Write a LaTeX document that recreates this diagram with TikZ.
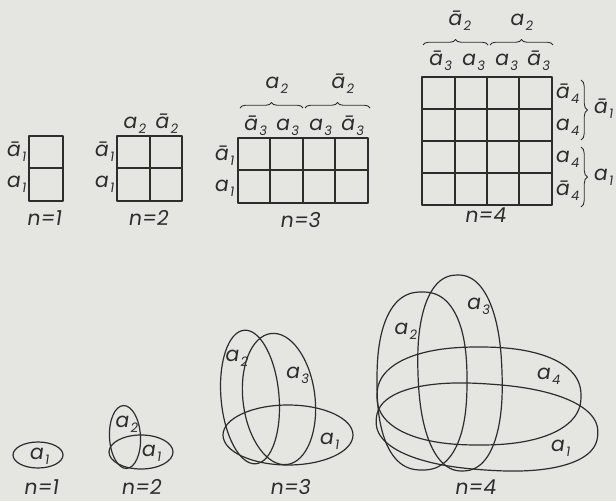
\documentclass[tikz,border=0pt]{standalone}
\usepackage{fontspec}
\setmainfont{Poppins}[FakeSlant=0.15]
\usetikzlibrary{decorations.pathreplacing}
\definecolor{bg}{RGB}{229,229,225}
\definecolor{ink}{RGB}{45,45,45}
\newcommand{\lsub}[1]{\kern0.08em\raisebox{-0.26em}{\fontsize{13}{13}\selectfont #1}}
\newcommand{\La}[1]{a\lsub{#1}}
\newcommand{\Lb}[1]{ā\lsub{#1}}
\newcommand{\sell}[6]{%
  \draw[venn,rotate around={#6:(#1,#2)}] plot[domain=1:359,samples=180]
  ({#1+#3*cos(\x)*pow(abs(cos(\x)),2/#5-1)},{#2+#4*sin(\x)*pow(abs(sin(\x)),2/#5-1)}) -- cycle;}
\begin{document}
\begin{tikzpicture}[x=1pt,y=-1pt,line join=round,
  grid/.style={draw=ink,line width=1.2pt},
  venn/.style={draw=ink,line width=1.2pt},
  brc/.style={decorate,decoration={brace,amplitude=5.5pt},draw=ink,line width=0.9pt},
  lab/.style={anchor=base,inner sep=0pt,text=ink,font=\fontsize{20.5}{22}\selectfont}]
\useasboundingbox (0,0) rectangle (616,501);
\fill[bg] (0,0) rectangle (616,501);

% ---------- grids ----------
% n=1
\draw[grid] (29,136) rectangle (63,201) (29,168) -- (63,168);
\node[lab] (g1r1) at (16,156) {\Lb1};
\node[lab] (g1r2) at (16,187) {\La1};
\node[lab] (g1n) at (44,225) {n=1};
% n=2
\draw[grid] (117,136) rectangle (182,201) (117,168) -- (182,168) (150,136) -- (150,201);
\node[lab] (g2r1) at (104,156) {\Lb1};
\node[lab] (g2r2) at (104,187) {\La1};
\node[lab] (g2c1) at (134,128) {\La2};
\node[lab] (g2c2) at (166,128) {\Lb2};
\node[lab] (g2n) at (148,225) {n=2};
% n=3
\draw[grid] (238,138) rectangle (368,203) (238,170) -- (368,170);
\foreach \c in {270,303,335} \draw[grid] (\c,138) -- (\c,203);
\node[lab] (g3r1) at (224,160) {\Lb1};
\node[lab] (g3r2) at (224,191) {\La1};
\node[lab] (g3c1) at (255,130) {\Lb3};
\node[lab] (g3c2) at (287,130) {\La3};
\node[lab] (g3c3) at (320,130) {\La3};
\node[lab] (g3c4) at (352,130) {\Lb3};
\draw[brc] (240,108) -- (303,108);
\draw[brc] (305,108) -- (370,108);
\node[lab] (g3b1) at (276,88) {\La2};
\node[lab] (g3b2) at (342,88) {\Lb2};
\node[lab] (g3n) at (300,227) {n=3};
% n=4
\draw[grid] (422,77) rectangle (552,205);
\foreach \c in {455,487,519} \draw[grid] (\c,77) -- (\c,205);
\foreach \r in {109,141,173} \draw[grid] (422,\r) -- (552,\r);
\node[lab] (g4c1) at (440,65) {\Lb3};
\node[lab] (g4c2) at (473,65) {\La3};
\node[lab] (g4c3) at (506,65) {\La3};
\node[lab] (g4c4) at (538,65) {\Lb3};
\draw[brc] (423,45) -- (488,45);
\draw[brc] (490,45) -- (553,45);
\node[lab] (g4b1) at (459,25) {\Lb2};
\node[lab] (g4b2) at (521,25) {\La2};
\node[lab] (g4r1) at (567,98) {\Lb4};
\node[lab] (g4r2) at (567,130) {\La4};
\node[lab] (g4r3) at (567,162) {\La4};
\node[lab] (g4r4) at (567,195) {\Lb4};
\draw[brc,decoration={amplitude=6.5pt}] (581,80) -- (581,140);
\draw[brc,decoration={amplitude=6.5pt}] (581,147) -- (581,207);
\node[lab] (g4s1) at (603,113) {\Lb1};
\node[lab] (g4s2) at (603,180) {\La1};
\node[lab] (g4n) at (485,222) {n=4};

% ---------- Venn diagrams ----------
% n=1
\draw[venn] (38,455) ellipse [x radius=25, y radius=13];
\node[lab] (v1a1) at (39,459) {\La1};
\node[lab] (v1n) at (41,494) {n=1};
% n=2
\draw[venn] (141,452) ellipse [x radius=32, y radius=17];
\draw[venn,rotate around={3:(125,437)}] (125,437) ellipse [x radius=15.5, y radius=31.5];
\node[lab] (v2a2) at (126,427) {\La2};
\node[lab] (v2a1) at (151,456) {\La1};
\node[lab] (v2n) at (141,494) {n=2};
% n=3
\draw[venn] (288,435) ellipse [x radius=65, y radius=30];
\draw[venn,rotate around={5:(250,397)}] (250,397) ellipse [x radius=29, y radius=67];
\draw[venn,rotate around={7:(279,399)}] (279,399) ellipse [x radius=36, y radius=66];
\node[lab] (v3a2) at (236,361) {\La2};
\node[lab] (v3a3) at (297,378) {\La3};
\node[lab] (v3a1) at (329,444) {\La1};
\node[lab] (v3n) at (290,494) {n=3};
% n=4
\sell{422}{381}{45}{89}{2.4}{0}
\sell{460}{373}{42}{98}{2.3}{2}
\sell{479}{396}{102}{49}{2.3}{0}
\sell{487}{427}{111}{43}{2.3}{-4}
\node[lab] (v4a2) at (405,334) {\La2};
\node[lab] (v4a3) at (478,309) {\La3};
\node[lab] (v4a4) at (548,379) {\La4};
\node[lab] (v4a1) at (560,451) {\La1};
\node[lab] (v4n) at (475,494) {n=4};
\end{tikzpicture}
\end{document}
